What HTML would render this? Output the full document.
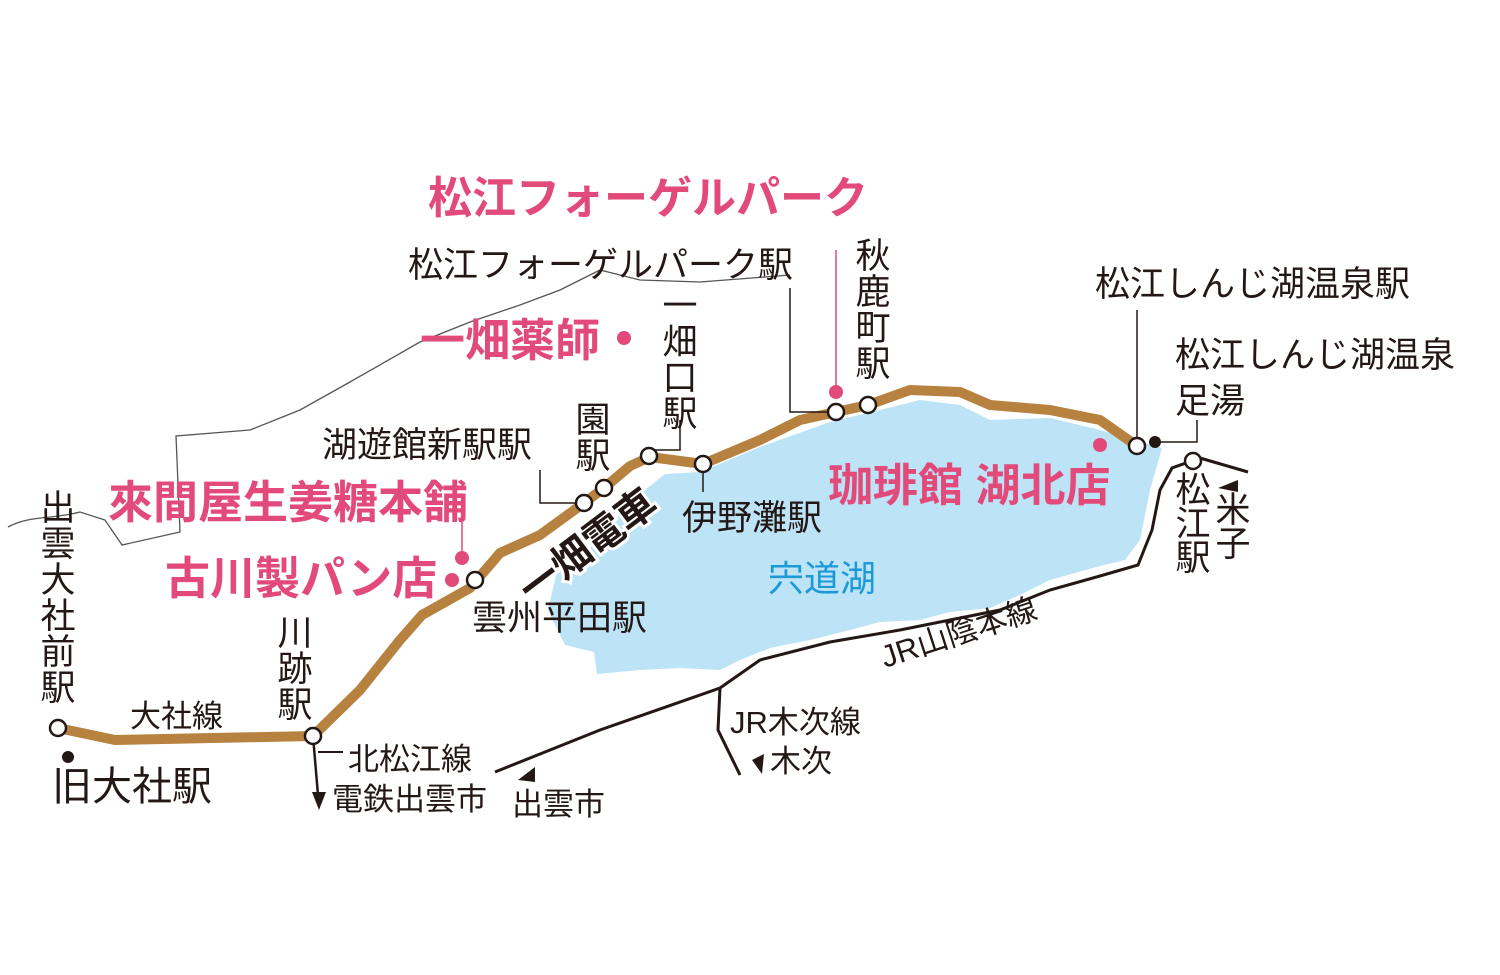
<!DOCTYPE html><html><head><meta charset="utf-8"><style>
body{margin:0;width:1500px;height:975px;background:#fff;overflow:hidden}
svg{display:block}
text{font-family:"Liberation Sans","Noto Sans CJK JP",sans-serif;fill:#231815}
.p{fill:#e24a7a;font-weight:bold}
</style></head><body>
<svg width="1500" height="975" viewBox="0 0 1500 975">
<path d="M665,474 L700,472 L760,447 L830,422 L880,410 L920,400 L960,405 L990,420 L1050,418 L1100,430 L1162,448 L1150,490 L1140,540 L1125,560 L1100,566 L1050,580 L1020,595 L990,608 L950,612 L920,620 L880,622 L850,630 L810,640 L770,648 L740,660 L720,670 L680,668 L640,670 L597,674 L594,652 L565,645 L548,610 L556,575 L590,548 L620,515 L645,490 Z" fill="#bde3f7"/>
<path d="M8,527 C30,515 50,520 80,512 L105,520 L122,545 L180,532 L176,436 L250,430 L300,410 L350,382 L420,342 L470,322 L520,305 L560,290 L600,270 L640,280 L700,282 L790,275" fill="none" stroke="#555" stroke-width="1.3"/>
<path d="M495,772 L600,730 L720,688 L760,660 L830,642 L900,630 L960,618 L1000,610 L1050,590 L1100,576 L1138,565 L1152,530 L1160,490 L1172,468 L1200,458 L1248,472" fill="none" stroke="#231815" stroke-width="3"/>
<path d="M720,688 L718,730 L740,775" fill="none" stroke="#231815" stroke-width="3"/>
<path d="M313,736 L318,795" stroke="#231815" stroke-width="2.5"/>
<path d="M318,752 L343,752" stroke="#231815" stroke-width="2"/>
<polygon points="312,792 326,792 319,810" fill="#231815"/>
<polygon points="518,780 535,767 535,782" fill="#231815"/>
<polygon points="1218,488 1238,480 1238,492" fill="#231815"/>
<polygon points="752,760 764,754 762,774" fill="#231815"/>
<text transform="translate(532,605) rotate(-37)" font-size="40" font-weight="bold" stroke="#fff" stroke-width="6" paint-order="stroke">一畑電車</text>
<path d="M58,728 L115,740 L313,736 L360,690 L400,640 L422,615 L470,588 L500,553 L540,535 L584,503 L604,488 L630,466 L650,457 L703,464 L760,440 L800,420 L836,412 L868,405 L910,390 L960,392 L990,405 L1050,410 L1100,420 L1137,446" fill="none" stroke="#b7823f" stroke-width="10" stroke-linejoin="round"/>
<g stroke="#231815" stroke-width="1.5" fill="none">
<path d="M540,470 L540,503 L584,503"/><path d="M680,420 L680,450 L650,450"/><path d="M703,464 L703,492"/>
<path d="M790,288 L790,412 L836,412"/><path d="M836,250 L836,392" stroke="#e24a7a"/>
<path d="M1137,310 L1137,446"/><path d="M1197,420 L1197,442 L1158,442"/>
<path d="M462,520 L462,558" stroke="#e24a7a"/>
</g>
<g fill="#fff" stroke="#231815" stroke-width="2.5">
<circle cx="58" cy="728" r="8"/><circle cx="313" cy="736" r="8"/><circle cx="475" cy="580" r="8"/><circle cx="584" cy="503" r="8"/><circle cx="604" cy="488" r="8"/><circle cx="649" cy="456" r="8"/><circle cx="703" cy="464" r="8"/><circle cx="836" cy="412" r="8"/><circle cx="868" cy="405" r="8"/><circle cx="1137" cy="446" r="8"/><circle cx="1193" cy="461" r="8"/>
</g>
<circle cx="68" cy="757" r="6" fill="#231815"/><circle cx="1155" cy="442" r="6" fill="#231815"/>
<g fill="#e24a7a"><circle cx="624" cy="338" r="7"/><circle cx="462" cy="558" r="7"/><circle cx="452" cy="580" r="7"/><circle cx="836" cy="392" r="7"/><circle cx="1100" cy="445" r="7"/></g>
<g font-size="45">
<text class="p" x="428" y="213" font-size="44">松江フォーゲルパーク</text>
<text class="p" x="420" y="356">一畑薬師</text>
<text class="p" x="108" y="518">來間屋生姜糖本舗</text>
<text class="p" x="165" y="594">古川製パン店</text>
<text class="p" x="828" y="501">珈琲館 湖北店</text>
</g>
<g font-size="35">
<text x="408" y="277">松江フォーゲルパーク駅</text>
<text x="1095" y="296">松江しんじ湖温泉駅</text>
<text x="1175" y="367">松江しんじ湖温泉</text>
<text x="1175" y="413">足湯</text>
<text x="322" y="457">湖遊館新駅駅</text>
<text x="682" y="530">伊野灘駅</text>
<text x="472" y="630">雲州平田駅</text>
<text x="52" y="800" font-size="40">旧大社駅</text>
<text x="130" y="727" font-size="31">大社線</text>
<text x="348" y="770" font-size="31">北松江線</text>
<text x="332" y="810" font-size="31">電鉄出雲市</text>
<text x="512" y="815" font-size="31">出雲市</text>
<text x="730" y="733" font-size="31">JR木次線</text>
<text x="770" y="772" font-size="31">木次</text>
<text x="768" y="591" font-size="36" style="fill:#1d9ad6">宍道湖</text>
<text transform="translate(885,668) rotate(-18)" font-size="31">JR山陰本線</text>
</g>
<g font-size="35" text-anchor="middle">
<text x="58" y="520"><tspan x="58">出</tspan><tspan x="58" dy="36">雲</tspan><tspan x="58" dy="36">大</tspan><tspan x="58" dy="36">社</tspan><tspan x="58" dy="36">前</tspan><tspan x="58" dy="36">駅</tspan></text>
<text x="295" y="645"><tspan x="295">川</tspan><tspan x="295" dy="36">跡</tspan><tspan x="295" dy="36">駅</tspan></text>
<text x="593" y="432"><tspan x="593">園</tspan><tspan x="593" dy="36">駅</tspan></text>
<text x="680" y="318"><tspan x="680">一</tspan><tspan x="680" dy="36">畑</tspan><tspan x="680" dy="36">口</tspan><tspan x="680" dy="36">駅</tspan></text>
<text x="873" y="268"><tspan x="873">秋</tspan><tspan x="873" dy="36">鹿</tspan><tspan x="873" dy="36">町</tspan><tspan x="873" dy="36">駅</tspan></text>
<text x="1193" y="502"><tspan x="1193">松</tspan><tspan x="1193" dy="34">江</tspan><tspan x="1193" dy="34">駅</tspan></text>
<text x="1233" y="522"><tspan x="1233">米</tspan><tspan x="1233" dy="34">子</tspan></text>
</g>
</svg></body></html>
